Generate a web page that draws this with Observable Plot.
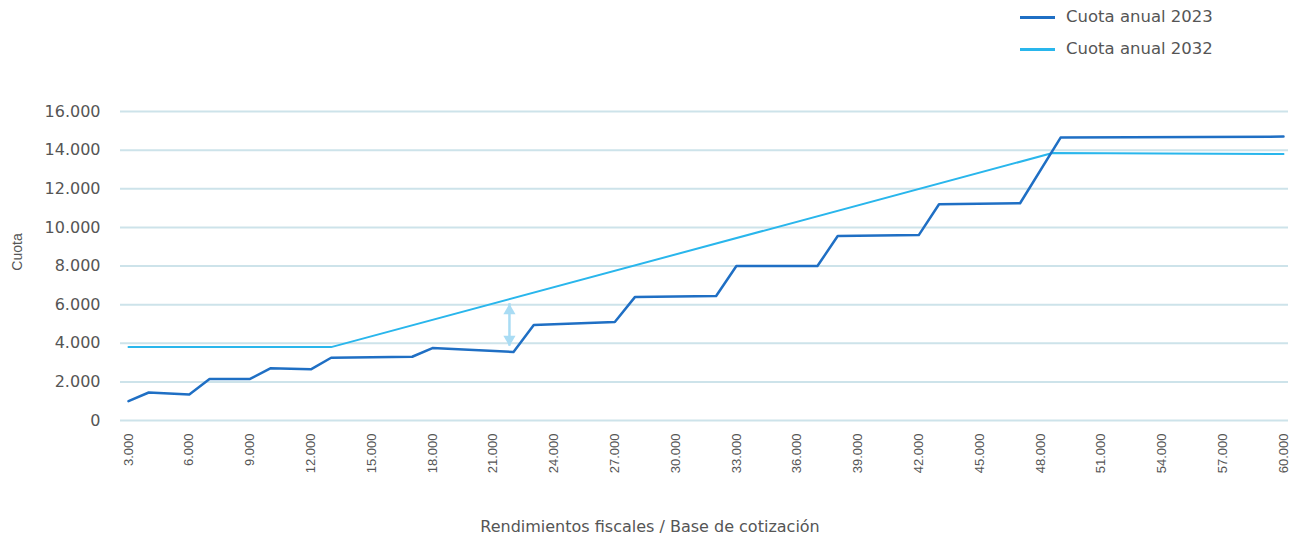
<!DOCTYPE html>
<html>
<head>
<meta charset="utf-8">
<script src="https://cdn.jsdelivr.net/npm/d3@7"></script>
<script src="https://cdn.jsdelivr.net/npm/@observablehq/plot@0.6"></script>
<style>
  html, body { margin: 0; padding: 0; background: #fff; }
  #wrap { width: 1300px; height: 537px; position: relative; overflow: hidden; }
  #legend { position: relative; height: 66px; font-family: "DejaVu Sans", sans-serif; font-size: 16.5px; color: #555; }
  .sw { position: absolute; left: 1020px; width: 35px; height: 3px; }
  .lt { position: absolute; left: 1066px; line-height: 20px; white-space: nowrap; }
  #chart svg { display: block; }
  #caption { height: 21px; line-height: 21px; font-family: "DejaVu Sans", sans-serif; font-size: 16px; color: #555; text-align: center; width: 1300px; }
</style>
</head>
<body>
<div id="wrap">
  <div id="legend"></div>
  <div id="chart"></div>
  <div id="caption"></div>
</div>
<script>
// --- data ---
const seriesNames = ["Cuota anual 2023", "Cuota anual 2032"];
const seriesColors = ["#1f6fc4", "#29b6ec"];

const x2023 = [3000, 4000, 6000, 7000, 9000, 10000, 12000, 13000, 17000, 18000, 22000, 23000, 27000, 28000, 32000, 33000, 37000, 38000, 42000, 43000, 47000, 49000, 60000];
const y2023 = [1000, 1450, 1350, 2150, 2150, 2700, 2650, 3250, 3300, 3750, 3550, 4950, 5100, 6400, 6450, 8000, 8000, 9550, 9600, 11200, 11250, 14650, 14700];

const x2032 = [3000, 13000, 48600, 60000];
const y2032 = [3800, 3800, 13850, 13800];

const arrowX = [21800];
const arrowLow = [3850];
const arrowHigh = [6050];

const yTicks = [0, 2000, 4000, 6000, 8000, 10000, 12000, 14000, 16000];
const xTicks = [3000, 6000, 9000, 12000, 15000, 18000, 21000, 24000, 27000, 30000, 33000, 36000, 39000, 42000, 45000, 48000, 51000, 54000, 57000, 60000];

const yTitle = "Cuota";
const xTitle = "Rendimientos fiscales / Base de cotización";

// --- build ---
const locale = d3.formatLocale({decimal: ",", thousands: ".", grouping: [3], currency: ["", " €"]});
const fmt = locale.format(",");

const d2023 = x2023.map((x, i) => ({x, y: y2023[i]}));
const d2032 = x2032.map((x, i) => ({x, y: y2032[i]}));
const arrowData = arrowX.map((x, i) => ({x, lo: arrowLow[i], hi: arrowHigh[i]}));

const legend = document.getElementById("legend");
seriesNames.forEach((name, i) => {
  const top = 17 + i * 32;
  const sw = document.createElement("div");
  sw.className = "sw";
  sw.style.top = (top - 1.5) + "px";
  sw.style.background = seriesColors[i];
  legend.appendChild(sw);
  const t = document.createElement("div");
  t.className = "lt";
  t.style.top = (top - 10) + "px";
  t.textContent = name;
  legend.appendChild(t);
});

document.getElementById("caption").textContent = xTitle;

const arrowColor = "#a9dcf4";

const chart = Plot.plot({
  width: 1300,
  height: 450,
  marginLeft: 128,
  marginRight: 17,
  marginTop: 45,
  marginBottom: 96,
  style: {fontFamily: "DejaVu Sans, sans-serif", fontSize: "16px", color: "#555", background: "transparent"},
  x: {domain: [3000, 60000], label: null},
  y: {domain: [0, 16000], label: null},
  marks: [
    Plot.ruleY(yTicks, {stroke: "#cde3ea", strokeWidth: 2, insetLeft: -8, insetRight: -5}),
    Plot.axisY({ticks: yTicks, tickSize: 0, tickPadding: 28, tickFormat: fmt, label: null, fontSize: 16}),
    Plot.axisX({ticks: xTicks, tickSize: 0, tickPadding: 13, tickRotate: -90, tickFormat: fmt, label: null, fontSize: 13, fontFamily: "Liberation Sans, Arial, sans-serif"}),
    Plot.ruleX(arrowData, {x: "x", y1: "lo", y2: "hi", stroke: arrowColor, strokeWidth: 2.5}),
    Plot.dot(arrowData, {x: "x", y: "hi", symbol: "triangle", r: 4.5, fill: arrowColor, stroke: null, dy: 7}),
    Plot.dot(arrowData, {x: "x", y: "lo", symbol: "triangle", r: 4.5, fill: arrowColor, stroke: null, rotate: 180, dy: -7}),
    Plot.line(d2032, {x: "x", y: "y", stroke: seriesColors[1], strokeWidth: 2}),
    Plot.line(d2023, {x: "x", y: "y", stroke: seriesColors[0], strokeWidth: 2.5}),
    Plot.text([yTitle], {frameAnchor: "left", textAnchor: "middle", rotate: -90, dx: -111, dy: -14, fontSize: 14, fontFamily: "Liberation Sans, Arial, sans-serif", fill: "#555"})
  ]
});
document.getElementById("chart").appendChild(chart);
</script>
</body>
</html>
